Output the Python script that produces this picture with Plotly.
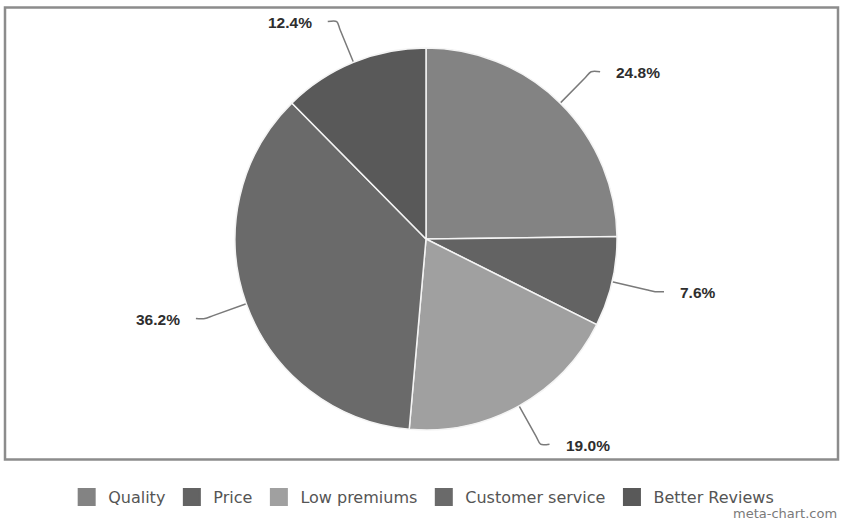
import math
import plotly.graph_objects as go

# Survey shares by reason
categories = ["Quality", "Price", "Low premiums", "Customer service", "Better Reviews"]
shares = [24.8, 7.6, 19.0, 36.2, 12.4]
slice_colors = ["#838383", "#636363", "#a0a0a0", "#6a6a6a", "#595959"]

W, H = 841, 532
CX, CY, R = 426, 239, 191          # pie centre and radius in pixels
ELBOW = 44                         # connector elbow distance beyond the rim
TAIL = 9                           # horizontal tail of the connector
GAP = 14                           # space between connector end and label

fig = go.Figure()

fig.add_trace(go.Pie(
    labels=categories,
    values=shares,
    sort=False,
    direction="clockwise",
    rotation=0,
    textinfo="none",
    hoverinfo="label+percent",
    marker=dict(colors=slice_colors, line=dict(color="#f4f4f4", width=1.5)),
    domain=dict(x=[(CX - R) / W, (CX + R) / W],
                y=[(H - CY - R) / H, (H - CY + R) / H]),
    showlegend=False,
))

# Legend entries with larger square swatches, one per slice
for name, col in zip(categories, slice_colors):
    fig.add_trace(go.Scatter(
        x=[None], y=[None], mode="markers", name=name,
        marker=dict(symbol="square", size=16, color=col, line=dict(color=col, width=2)),
        showlegend=True, hoverinfo="skip",
    ))

# Connectors and outside labels, placed from each slice's mid angle
total = sum(shares)
cum = 0.0
for name, v in zip(categories, shares):
    mid = (cum + v / 2) / total * 2 * math.pi
    cum += v
    ux, uy = math.sin(mid), -math.cos(mid)
    side = 1 if ux >= 0 else -1
    ex, ey = CX + R * ux, CY + R * uy
    bx, by = CX + (R + ELBOW * 0.8) * ux, CY + (R + ELBOW * 0.8) * uy
    kx, ky = CX + (R + ELBOW) * ux, CY + (R + ELBOW) * uy
    tx, ty = kx + side * TAIL, ky
    fig.add_trace(go.Scatter(
        x=[ex, bx, kx, tx], y=[ey, by, ky, ty],
        mode="lines", line=dict(color="#7a7a7a", width=1.5, shape="spline", smoothing=0.8),
        hoverinfo="skip", showlegend=False,
    ))
    fig.add_annotation(
        x=tx + side * GAP, y=ty + 1, xref="x", yref="y",
        text=f"<b>{v:.1f}%</b>", showarrow=False,
        xanchor="left" if side > 0 else "right", yanchor="middle",
        font=dict(family="Liberation Sans, Arial, sans-serif", size=15.5, color="#2e2e2e"),
    )

# Chart frame
fig.add_shape(type="rect", xref="x", yref="y", x0=5, x1=838, y0=7.5, y1=459.5,
              line=dict(color="#8c8c8c", width=2.5), fillcolor="rgba(0,0,0,0)", layer="below")

fig.add_annotation(
    x=839 / W, y=1 - 513 / H, xref="paper", yref="paper",
    text="meta-chart.com", showarrow=False, xanchor="right", yanchor="middle",
    font=dict(family="DejaVu Sans, sans-serif", size=13, color="#7a7a7a"),
)

fig.update_layout(
    width=W, height=H,
    margin=dict(l=0, r=0, t=0, b=0),
    paper_bgcolor="white", plot_bgcolor="white",
    xaxis=dict(range=[0, W], visible=False, fixedrange=True),
    yaxis=dict(range=[H, 0], visible=False, fixedrange=True),
    legend=dict(
        orientation="h", x=0.502, xanchor="center", y=1 - 497 / H, yanchor="middle",
        font=dict(family="DejaVu Sans, sans-serif", size=16, color="#555555"),
        itemwidth=33, itemsizing="trace", traceorder="normal",
    ),
)

fig.write_html("out.html")
